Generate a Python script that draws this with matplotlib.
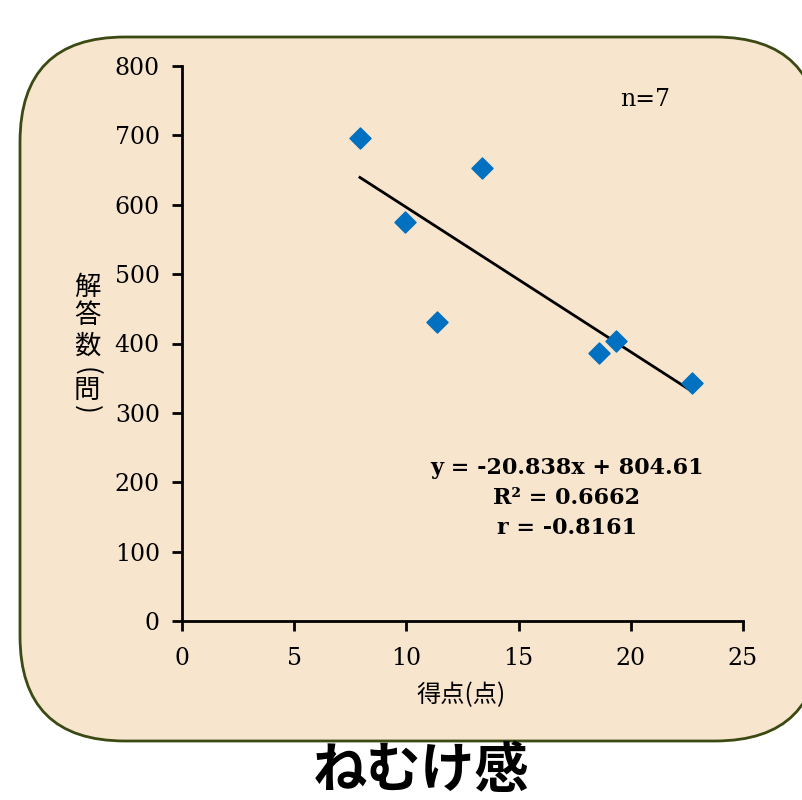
import matplotlib
matplotlib.use("Agg")
from matplotlib import pyplot as plt
from matplotlib.patches import FancyBboxPatch

# score (points) vs answers
score = [7.93, 9.94, 11.36, 13.37, 18.58, 19.34, 22.73]
answers = [696, 575, 431, 653, 386, 404, 343]

# trend line as given on the chart
slope = -20.838
intercept = 804.61
fit_text = "y = -20.838x + 804.61\nR² = 0.6662\nr = -0.8161"

x_ticks = [0, 5, 10, 15, 20, 25]
y_ticks = [0, 100, 200, 300, 400, 500, 600, 700, 800]

title = "ねむけ感"
x_label = "得点(点)"
# vertical y label, one glyph per entry; parens get turned sideways
y_label = ["解", "答", "数", "(", "問", ")"]

jp_font = ["Noto Sans CJK JP", "DejaVu Sans"]
num_font = "DejaVu Serif"

fig = plt.figure(figsize=(8.03, 8.0), dpi=100)
fig.patch.set_facecolor("white")

# background panel drawn in pixel coordinates
bg = fig.add_axes([0, 0, 1, 1])
bg.set_xlim(0, 803)
bg.set_ylim(800, 0)
bg.axis("off")
panel = FancyBboxPatch((20, 37), 800, 704,
                       boxstyle="round,pad=0,rounding_size=105",
                       facecolor="#F8E5CE", edgecolor="#3B4A12", linewidth=2)
bg.add_patch(panel)

ax = fig.add_axes([182 / 803, 1 - 621 / 800, (743 - 182) / 803, (621 - 66) / 800])
ax.set_facecolor("none")
ax.set_xlim(0, 25)
ax.set_ylim(0, 800)

ax.scatter(score, answers, marker="D", s=115, color="#0070C0", zorder=3)
x0, x1 = min(score), max(score)
ax.plot([x0, x1], [slope * x0 + intercept, slope * x1 + intercept],
        color="black", linewidth=2, zorder=2)

for side in ["top", "right"]:
    ax.spines[side].set_visible(False)
for side in ["left", "bottom"]:
    ax.spines[side].set_linewidth(2)

ax.set_xticks(x_ticks)
ax.set_yticks(y_ticks)
ax.tick_params(direction="out", length=7, width=2, labelsize=17, pad=12)
ax.tick_params(axis="y", pad=9)
for lbl in ax.get_xticklabels() + ax.get_yticklabels():
    lbl.set_family(num_font)

fig.text(620 / 803, 1 - 100 / 800, "n=7", fontsize=17, family=num_font,
         va="center", ha="left")
fig.text(567 / 803, 1 - 498 / 800, fit_text, fontsize=16, family=num_font,
         fontweight="bold", ha="center", va="center", linespacing=1.5)

fig.text(461 / 803, 1 - 695 / 800, x_label, family=jp_font, fontsize=17.5,
         ha="center", va="center")

# y label glyph centres (pixels from top)
y_label_pos = [287, 315, 346, 371, 390, 409]
for ch, yp in zip(y_label, y_label_pos):
    rot = -90 if ch in "()" else 0
    fig.text(87 / 803, 1 - yp / 800, ch, family=jp_font, fontsize=19,
             ha="center", va="center", rotation=rot)

fig.text(421 / 803, 1 - 772 / 800, title, family=jp_font, fontsize=39,
         fontweight="bold", ha="center", va="center")

fig.savefig("out.png", dpi=100)
